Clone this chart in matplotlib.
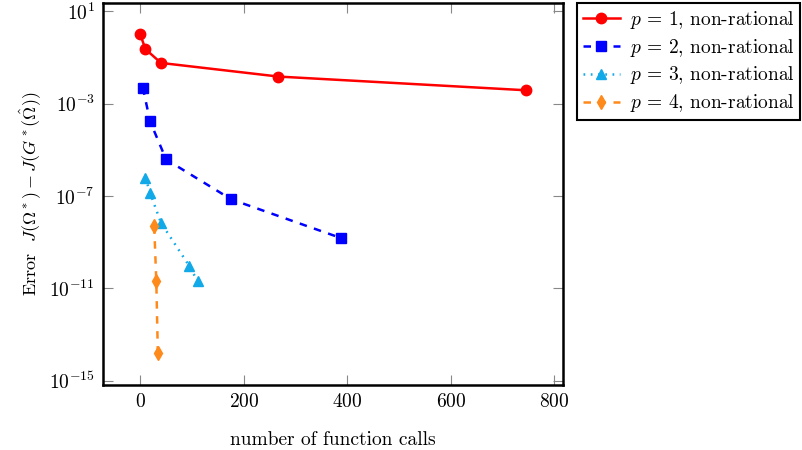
import matplotlib
matplotlib.use("Agg")
import matplotlib.pyplot as plt
import numpy as np

plt.rcParams["font.family"] = "serif"
plt.rcParams["font.serif"] = ["cmr10"]
plt.rcParams["mathtext.fontset"] = "cm"
plt.rcParams["axes.formatter.use_mathtext"] = True

# data
calls_p1 = [0, 10, 40, 267, 745]
err_p1 = [1.0, 0.23, 0.058, 0.0149, 0.0038]

calls_p2 = [5, 19, 50, 176, 388]
err_p2 = [5.0e-3, 1.7e-4, 3.8e-6, 7.1e-8, 1.5e-9]

calls_p3 = [10, 19, 40, 95, 111]
err_p3 = [6.3e-7, 1.35e-7, 6.9e-9, 9.1e-11, 2.0e-11]

calls_p4 = [27, 31, 34]
err_p4 = [4.9e-9, 2.0e-11, 1.6e-14]

fig = plt.figure(figsize=(8.02, 4.5), dpi=100)
ax = fig.add_axes([103 / 802, 1 - 385 / 450, 460 / 802, 382 / 450])

ax.plot(calls_p1, err_p1, "-o", color="#ff0000", lw=1.8, ms=7.5,
        label=r"$p\,=\,1$, non-rational")
ax.plot(calls_p2, err_p2, "--s", color="#0000ff", lw=1.8, ms=7,
        dashes=(3, 3), label=r"$p\,=\,2$, non-rational")
ax.plot(calls_p3, err_p3, ":^", color="#12a9e8", lw=1.8, ms=7,
        dashes=(0.7, 2.2), label=r"$p\,=\,3$, non-rational")
ax.plot(calls_p4, err_p4, "--d", color="#ff8a1c", lw=1.8, ms=7,
        dashes=(3, 3), label=r"$p\,=\,4$, non-rational")

ax.set_yscale("log")
ax.set_xlim(-72, 817)
ax.set_ylim(10 ** -15.19, 10 ** 1.36)
ax.set_xticks([0, 200, 400, 600, 800])
ax.set_yticks([1e1, 1e-3, 1e-7, 1e-11, 1e-15])
ax.yaxis.set_minor_locator(matplotlib.ticker.NullLocator())

ax.tick_params(direction="in", length=7, width=0.8, color="#888888",
               top=True, right=True, labelsize=14, pad=6)
for s in ax.spines.values():
    s.set_linewidth(1.8)

ax.set_xlabel("number of function calls", fontsize=14, labelpad=14)
ax.set_ylabel(r"Error  $J(\Omega^*) - J(G^*(\hat{\Omega}))$", fontsize=13,
              labelpad=4)

leg = fig.legend(loc="upper left", bbox_to_anchor=(577 / 802, 1 - 3 / 450),
                 fontsize=14, fancybox=False, framealpha=1, edgecolor="black",
                 handlelength=1.9, borderpad=0.3, labelspacing=0.3,
                 handletextpad=0.5, borderaxespad=0)
leg.get_frame().set_linewidth(1.5)

fig.savefig("out.png", dpi=100)
